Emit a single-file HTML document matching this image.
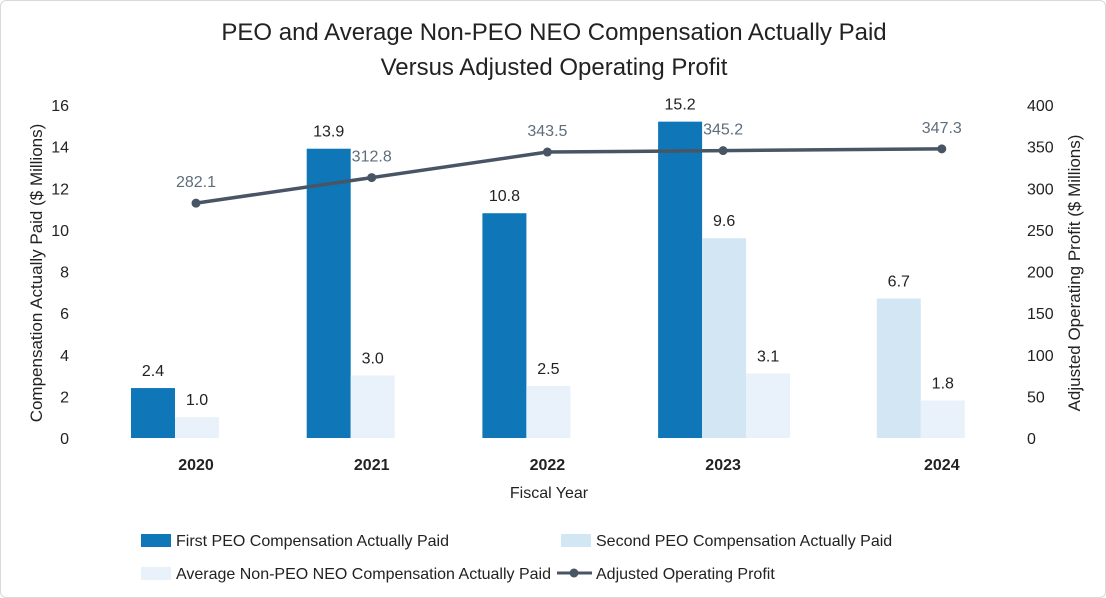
<!DOCTYPE html>
<html><head><meta charset="utf-8"><style>
body{margin:0;background:#fff;font-family:"Liberation Sans",sans-serif;}
#wrap{position:absolute;left:0;top:0;width:1104px;height:596px;border:1px solid #d9d9d9;border-radius:6px;overflow:hidden}
</style></head><body>
<div id="wrap">
<svg id="chart" width="1106" height="598" xmlns="http://www.w3.org/2000/svg" font-family="Liberation Sans, sans-serif">
<text x="553" y="39" text-anchor="middle" font-size="24" fill="#222">PEO and Average Non-PEO NEO Compensation Actually Paid</text>
<text x="553" y="74" text-anchor="middle" font-size="24" fill="#222">Versus Adjusted Operating Profit</text>
<g id="axes"></g><g id="bars"></g><g id="line"></g>
<text x="548" y="497" text-anchor="middle" font-size="16" fill="#222">Fiscal Year</text>
<text transform="translate(41,272) rotate(-90)" text-anchor="middle" font-size="17" fill="#222">Compensation Actually Paid ($ Millions)</text>
<text transform="translate(1079,272) rotate(-90)" text-anchor="middle" font-size="17" fill="#222">Adjusted Operating Profit ($ Millions)</text>
<g>
<rect x="140" y="533" width="30" height="13" fill="#0f77b8"/>
<text x="175" y="545" font-size="16" fill="#222">First PEO Compensation Actually Paid</text>
<rect x="560" y="533" width="30" height="13" fill="#d3e6f4"/>
<text x="595" y="545" font-size="16" fill="#222">Second PEO Compensation Actually Paid</text>
<rect x="140" y="566" width="30" height="13" fill="#e9f2fa"/>
<text x="175" y="578" font-size="16" fill="#222">Average Non-PEO NEO Compensation Actually Paid</text>
<line x1="556" y1="572" x2="591" y2="572" stroke="#485565" stroke-width="3"/>
<circle cx="573" cy="572" r="4.5" fill="#485565"/>
<text x="595" y="578" font-size="16" fill="#222">Adjusted Operating Profit</text>
</g>
</svg></div>
<script>
const categories=["2020","2021","2022","2023","2024"];
const firstPEO=[2.4,13.9,10.8,15.2,null];
const secondPEO=[null,null,null,9.6,6.7];
const avgNEO=[1.0,3.0,2.5,3.1,1.8];
const profit=[282.1,312.8,343.5,345.2,347.3];
const leftTicks=[0,2,4,6,8,10,12,14,16];
const rightTicks=[0,50,100,150,200,250,300,350,400];
const NS="http://www.w3.org/2000/svg";
const y0=437,y1=104;
function yL(v){return y0-(v/16)*(y0-y1);}
function yR(v){return y0-(v/400)*(y0-y1);}
function xC(i){return 195+175.7*i+(i===4?43:0);}
function mk(t,a,p){const e=document.createElementNS(NS,t);for(const k in a)e.setAttribute(k,a[k]);(p||document.getElementById('axes')).appendChild(e);return e;}
const ax=document.getElementById('axes');
leftTicks.forEach(v=>{const t=mk('text',{x:68,y:yL(v)+6,'text-anchor':'end','font-size':16,fill:'#222'},ax);t.textContent=v;

});
rightTicks.forEach(v=>{const t=mk('text',{x:1026,y:yR(v)+6,'text-anchor':'start','font-size':16,fill:'#222'},ax);t.textContent=v;

});
categories.forEach((c,i)=>{const t=mk('text',{x:xC(i),y:469,'text-anchor':'middle','font-size':16,'font-weight':'bold',fill:'#222'},ax);t.textContent=c;

});
const bg=document.getElementById('bars');
const series=[[firstPEO,'#0f77b8','first-peo'],[secondPEO,'#d3e6f4','second-peo'],[avgNEO,'#e9f2fa','avg-neo']];
const bw=44;
categories.forEach((c,i)=>{let slot=0;const start=xC(i)-65;
series.forEach(([arr,col,nm])=>{const v=arr[i];if(v==null)return;const x=start+slot*bw;slot++;
const r=mk('rect',{x:x,y:yL(v),width:bw,height:y0-yL(v),fill:col},bg);


const t=mk('text',{x:x+bw/2,y:yL(v)-12,'text-anchor':'middle','font-size':16,fill:'#222'},bg);t.textContent=v.toFixed(1);

});});
const lg=document.getElementById('line');
const pts=profit.map((v,i)=>xC(i)+','+yR(v)).join(' ');
const pl=mk('polyline',{points:pts,fill:'none',stroke:'#485565','stroke-width':3.5},lg);


profit.forEach((v,i)=>{const c=mk('circle',{cx:xC(i),cy:yR(v),r:4.5,fill:'#485565'},lg);


const t=mk('text',{x:xC(i),y:yR(v)-16,'text-anchor':'middle','font-size':16,fill:'#5f6d7c'},lg);t.textContent=v.toFixed(1);

});
</script>
</body></html>
